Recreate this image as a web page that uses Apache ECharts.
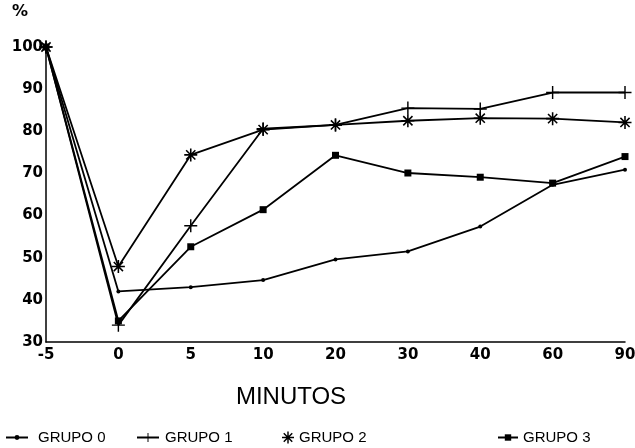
<!DOCTYPE html>
<html>
<head>
<meta charset="utf-8">
<script src="https://cdn.jsdelivr.net/npm/echarts@6/dist/echarts.min.js"></script>
<style>html,body{margin:0;padding:0;background:#fff}#c{width:635px;height:448px}</style>
</head>
<body>
<div id="c"></div>
<script>
var categories = ['-5', '0', '5', '10', '20', '30', '40', '60', '90'];
var grupo0 = [100, 42, 43, 44.7, 49.6, 51.5, 57.4, 67.3, 70.9];
var grupo1 = [100, 34, 57.6, 80.6, 81.5, 85.5, 85.3, 89.2, 89.2];
var grupo2 = [100, 47.9, 74.4, 80.4, 81.5, 82.5, 83.1, 83, 82.1];
var grupo3 = [100, 35, 52.6, 61.4, 74.3, 70.1, 69.1, 67.7, 74];
var seriesNames = ['GRUPO 0', 'GRUPO 1', 'GRUPO 2', 'GRUPO 3'];

var plusPath = 'path://M-1.1,-10H1.1V10H-1.1Z M-10,-1.1H10V1.1H-10Z';
var starPath = 'path://M-1.2,-10H1.2V10H-1.2Z M-10,-1.2H10V1.2H-10Z ' +
  'M-6.22,-7.92L7.92,6.22L6.22,7.92L-7.92,-6.22Z ' +
  'M-7.92,6.22L6.22,-7.92L7.92,-6.22L-6.22,7.92Z';

var font = 'Liberation Sans, Arial, sans-serif';
var boldFont = 'DejaVu Sans, sans-serif';
function mkSeries(name, data, symbol, size) {
  return {
    name: name, type: 'line', data: data,
    symbol: symbol, symbolSize: size, showSymbol: true,
    lineStyle: { color: '#000', width: 1.8 },
    itemStyle: { color: '#000' },
    emphasis: { disabled: true },
    animation: false
  };
}
function mkLegend(item, left, w, h, pad) {
  return {
    data: [item], left: left, top: 430, itemWidth: w, itemHeight: h, padding: 0,
    textStyle: { color: '#000', fontFamily: font, fontSize: 15, padding: [0, 0, 0, pad] },
    selectedMode: false
  };
}
var chart = echarts.init(document.getElementById('c'));
chart.setOption({
  backgroundColor: '#fff',
  animation: false,
  grid: { left: 46, right: 10, top: 47, bottom: 106, containLabel: false, outerBoundsMode: 'none' },
  legend: [
    mkLegend('GRUPO 0', 5, 22, 6, 5),
    mkLegend('GRUPO 1', 136, 22, 11, 1),
    mkLegend({ name: 'GRUPO 2', icon: starPath }, 282, 12, 12, 0),
    mkLegend('GRUPO 3', 497, 20, 8, 0)
  ],
  graphic: [
    { type: 'text', left: 12, top: 4, style: { text: '%', fontFamily: boldFont, fontSize: 16, fontWeight: 'bold', fill: '#000' } },
    { type: 'text', x: 291, y: 385, style: { text: 'MINUTOS', textAlign: 'center', fontFamily: font, fontSize: 24, fill: '#000' } }
  ],
  xAxis: {
    type: 'category', data: categories, boundaryGap: false,
    axisLine: { lineStyle: { color: '#000', width: 1.5 } },
    axisTick: { show: false },
    axisLabel: { color: '#000', fontFamily: boldFont, fontSize: 15, fontWeight: 'bold', margin: 6 },
    splitLine: { show: false }
  },
  yAxis: {
    type: 'value', min: 30, max: 100, interval: 10,
    axisLine: { show: true, lineStyle: { color: '#000', width: 1.5 } },
    axisTick: { show: false },
    axisLabel: { color: '#000', fontFamily: boldFont, fontSize: 15, fontWeight: 'bold', margin: 3 },
    splitLine: { show: false }
  },
  series: [
    mkSeries(seriesNames[0], grupo0, 'circle', 4),
    mkSeries(seriesNames[1], grupo1, plusPath, 13),
    mkSeries(seriesNames[2], grupo2, starPath, 13),
    mkSeries(seriesNames[3], grupo3, 'rect', 7)
  ]
});
</script>
</body>
</html>
